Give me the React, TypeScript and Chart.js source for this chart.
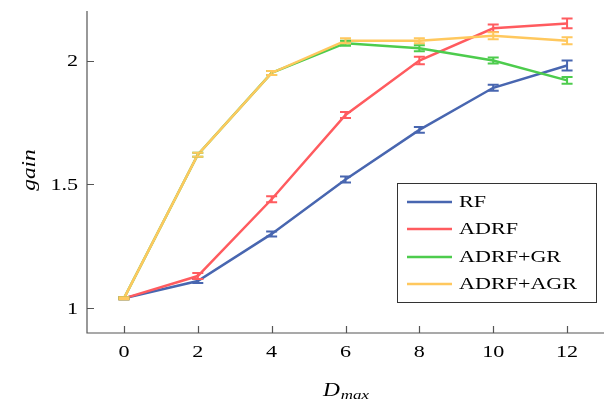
import React, { useEffect, useRef } from "react";
import { Chart, registerables } from "chart.js";

Chart.register(...registerables);

const xValues = [0, 2, 4, 6, 8, 10, 12];
const seriesNames = ["RF", "ADRF", "ADRF+GR", "ADRF+AGR"];
const rfValues = [1.04, 1.11, 1.3, 1.52, 1.72, 1.89, 1.98];
const adrfValues = [1.04, 1.13, 1.44, 1.78, 2.0, 2.13, 2.15];
const grValues = [1.04, 1.62, 1.95, 2.07, 2.05, 2.0, 1.92];
const agrValues = [1.04, 1.62, 1.95, 2.08, 2.08, 2.1, 2.08];
const rfErr = [0.004, 0.008, 0.01, 0.012, 0.012, 0.012, 0.02];
const adrfErr = [0.004, 0.012, 0.012, 0.012, 0.015, 0.015, 0.02];
const grErr = [0.004, 0.008, 0.008, 0.01, 0.012, 0.012, 0.014];
const agrErr = [0.004, 0.008, 0.008, 0.01, 0.01, 0.014, 0.014];
const xTicks = [0, 2, 4, 6, 8, 10, 12];
const yTicks = [1, 1.5, 2];
const colors = ["#4866B0", "#FF5B5F", "#4DCC4D", "#FFC85E"];

const FONT = "'Liberation Serif', serif";
const SX = 1.3;

function scaledText(ctx: any, text: string, x: number, y: number, align: string) {
  ctx.save();
  ctx.translate(x, y);
  ctx.scale(SX, 1);
  ctx.textAlign = align;
  ctx.fillText(text, 0, 0);
  ctx.restore();
}

const errorBarPlugin = {
  id: "errorBars",
  afterDatasetsDraw(chart: any) {
    const ctx = chart.ctx;
    const xs = chart.scales.x;
    const ys = chart.scales.y;
    chart.data.datasets.forEach((ds: any) => {
      const errs = ds.errs as number[];
      ctx.save();
      ctx.strokeStyle = ds.borderColor;
      ctx.lineWidth = 2;
      ds.data.forEach((p: any, i: number) => {
        const px = xs.getPixelForValue(p.x);
        const top = ys.getPixelForValue(p.y + errs[i]);
        const bot = ys.getPixelForValue(p.y - errs[i]);
        ctx.beginPath();
        ctx.moveTo(px, top);
        ctx.lineTo(px, bot);
        ctx.moveTo(px - 5.5, top);
        ctx.lineTo(px + 5.5, top);
        ctx.moveTo(px - 5.5, bot);
        ctx.lineTo(px + 5.5, bot);
        ctx.stroke();
      });
      ctx.restore();
    });
  },
};

const decorPlugin = {
  id: "decor",
  afterDraw(chart: any) {
    const ctx = chart.ctx;
    const xs = chart.scales.x;
    const ys = chart.scales.y;
    const area = chart.chartArea;
    ctx.save();
    ctx.strokeStyle = "#555";
    ctx.lineWidth = 1.2;
    ctx.beginPath();
    ctx.moveTo(area.left, area.top);
    ctx.lineTo(area.left, area.bottom);
    ctx.lineTo(chart.width, area.bottom);
    ctx.stroke();
    ctx.beginPath();
    xTicks.forEach((t) => {
      const px = Math.round(xs.getPixelForValue(t)) + 0.5;
      ctx.moveTo(px, area.bottom);
      ctx.lineTo(px, area.bottom - 7);
    });
    yTicks.forEach((t) => {
      const py = Math.round(ys.getPixelForValue(t)) + 0.5;
      ctx.moveTo(area.left, py);
      ctx.lineTo(area.left + 7, py);
    });
    ctx.stroke();
    ctx.fillStyle = "#000";
    ctx.font = `17px ${FONT}`;
    ctx.textBaseline = "middle";
    xTicks.forEach((t) => {
      scaledText(ctx, String(t), xs.getPixelForValue(t), area.bottom + 20, "center");
    });
    yTicks.forEach((t) => {
      scaledText(ctx, String(t), area.left - 9, ys.getPixelForValue(t) + 1, "right");
    });
    // y title
    ctx.save();
    ctx.translate(30, 170);
    ctx.rotate(-Math.PI / 2);
    ctx.scale(SX, 1);
    ctx.textAlign = "center";
    ctx.font = `italic 18px ${FONT}`;
    ctx.fillText("gain", 0, 0);
    ctx.restore();
    // x title D_max
    ctx.textBaseline = "alphabetic";
    ctx.font = `italic 18px ${FONT}`;
    const dW = ctx.measureText("D").width * SX;
    ctx.font = `italic 13px ${FONT}`;
    const sW = ctx.measureText("max").width * SX;
    const startX = 346 - (dW + sW + 1) / 2;
    ctx.font = `italic 18px ${FONT}`;
    scaledText(ctx, "D", startX, 396, "left");
    ctx.font = `italic 13px ${FONT}`;
    scaledText(ctx, "max", startX + dW + 1, 399, "left");
    // legend
    ctx.fillStyle = "#fff";
    ctx.fillRect(397, 183, 200, 120);
    ctx.strokeStyle = "#333";
    ctx.lineWidth = 1;
    ctx.strokeRect(397.5, 183.5, 199, 119);
    const rows = [202, 229, 257, 284];
    ctx.font = `17px ${FONT}`;
    ctx.textBaseline = "middle";
    seriesNames.forEach((n, i) => {
      ctx.strokeStyle = colors[i];
      ctx.lineWidth = 2.5;
      ctx.beginPath();
      ctx.moveTo(407, rows[i]);
      ctx.lineTo(452, rows[i]);
      ctx.stroke();
      ctx.fillStyle = "#000";
      scaledText(ctx, n, 459, rows[i] + 1, "left");
    });
    ctx.restore();
  },
};

export default function App() {
  const ref = useRef<HTMLCanvasElement>(null);
  useEffect(() => {
    document.body.style.margin = "0";
    const allVals = [rfValues, adrfValues, grValues, agrValues];
    const allErrs = [rfErr, adrfErr, grErr, agrErr];
    const chart = new Chart(ref.current!, {
      type: "line",
      data: {
        datasets: seriesNames.map((n, i) => ({
          label: n,
          data: xValues.map((x, j) => ({ x, y: allVals[i][j] })),
          errs: allErrs[i],
          borderColor: colors[i],
          backgroundColor: colors[i],
          borderWidth: 2.5,
          pointRadius: 0,
          tension: 0,
          order: 3 - i,
        })) as any,
      },
      options: {
        animation: false,
        responsive: false,
        layout: { padding: { top: 11, right: 0, left: 0, bottom: 0 } },
        plugins: { legend: { display: false }, tooltip: { enabled: false } },
        scales: {
          x: {
            type: "linear",
            min: -1,
            max: 13,
            grid: { display: false },
            border: { display: false },
            ticks: { display: false },
            afterFit: (s: any) => {
              s.height = 67;
            },
          },
          y: {
            type: "linear",
            min: 0.9,
            max: 2.2,
            grid: { display: false },
            border: { display: false },
            ticks: { display: false },
            afterFit: (s: any) => {
              s.width = 87;
            },
          },
        },
      },
      plugins: [errorBarPlugin, decorPlugin],
    });
    return () => chart.destroy();
  }, []);
  return (
    <div style={{ position: "absolute", left: 0, top: 0, width: 604, height: 400 }}>
      <canvas ref={ref} width={604} height={400} />
    </div>
  );
}
